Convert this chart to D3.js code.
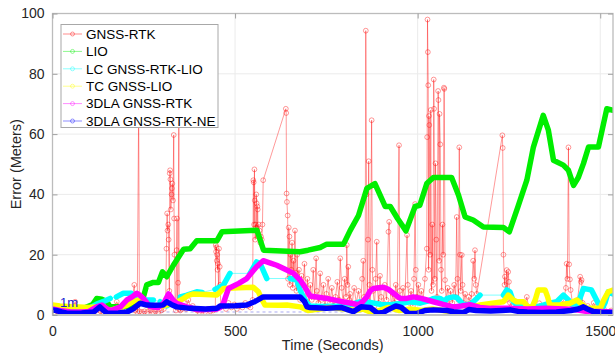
<!DOCTYPE html>
<html>
<head>
<meta charset="utf-8">
<script src="https://cdn.jsdelivr.net/npm/d3@7"></script>
<style>
  html, body { margin: 0; padding: 0; background: #fff; }
  svg { display: block; font-family: "Liberation Sans", Arial, sans-serif; }
</style>
</head>
<body>
<svg id="chart" width="615" height="354"></svg>
<script>
// Positioning error over time for six localisation methods.
const seriesNames = ["GNSS-RTK", "LIO", "LC GNSS-RTK-LIO", "TC GNSS-LIO", "3DLA GNSS-RTK", "3DLA GNSS-RTK-NE"];
const xTicks = [0, 500, 1000, 1500];
const yTicks = [0, 20, 40, 60, 80, 100];
const xDomain = [0, 1535];
const yDomain = [0, 100];
const refLevel = 1;        // 1 m reference line
const refLabel = "1m";

// [time (s), error (m)]
const gnssRtk = [
  [0,1.5],[6,0.8],[12,1.2],[18,0.5],[25,1],[32,0.7],[40,1.5],[47,0.6],[55,1],[62,4.4],[68,0.8],[75,2],[80,1],[88,0.7],[95,1.2],[102,0.5],[110,1],[118,1.8],[125,0.8],[132,1.2],[140,0.6],[148,1],[155,0.5],[162,1.5],[170,2.5],[176,4.4],[185,2],[192,3],[200,2.5],[208,3],[215,2.2],[224,10],[226,1.5],[232,1],[236,70],[238,1.2],[245,1],[252,1.2],[260,1],[268,1.5],[275,1],[282,1.3],[290,1],[298,1.5],[305,2],[310,4],
  [312,22],[314,33.7],[315,28],[317,30],[318,25],[320,8],[321,47],[322,48],[323,45],[324,35],[326,40],[327,42],[328,43.6],[330,38],[332,59.7],[333,32],[334,20],[336,4],[338,1.5],[340,21.5],[341,32],[342,3],[344,10.7],[346,66],[347,2],[350,1.5],
  [355,2],[360,4],[366,2],[372,5],[378,2.5],[384,3],[390,2],[396,1.5],[402,1],[410,1.5],[418,1],[425,2],[432,1.2],[440,1.5],
  [446,2],[447,23.2],[448,21],[449,22.5],[450,18],[451,20],[452,15],[453,17],[455,9],[456,22],[458,16],[459,10],[461,3],
  [468,3],[475,2],[482,4],[490,2.5],[498,3.5],[505,2],[512,3],[520,2.5],[528,4],[535,3],[542,2.5],[548,5],
  [550,44.7],[551,44],[552,30],[553,48.3],[554,38],[555,25],[556,30],[557,29],[558,40],[559,37],[560,28],[561,36],[562,35],[563,26],[565,30],[567,28],[569,24],[571,26],[573,25],[575,30],[577,44.7],
  [639,68.4],[640,67],[641,40.3],[642,37.5],[644,33],[645,12],[647,29],[649,26],[650,10],[652,20],[654,15],[656,24],[658,9],[660,18],[662,12],[664,28],[666,14],[668,8],[670,20],[672,10],[675,15],[678,5],[682,13],[686,9],
  [690,17],[694,4],[698,12],[702,3],[706,10],[710,5],[714,15],[718,6],[722,18.8],[724,8],[728,4],[733,13.8],[737,5],[742,10],[746,3],[750,7],[755,12],[760,4],[765,9],[770,3],[775,6],[780,11],[785,5],[788,18.8],[792,9],[796,4],[800,12],[804,6],[806,23.2],[808,10],[810,16],[813,5],[815,7],[820,3],[826,9],[832,4],[838,8],[844,3],[848,12],[851,18],[853,6],[856,3],[858,94.3],[860,40],[862,5],[864,25],[866,51],[868,10],[870,3],[874,64.6],[876,15],[878,8],[882,3],[885,12],[888,24.3],[890,9],[893,4],[897,13],[900,6],[905,3],[910,10],[915,5],[920,27.6],[922,30.9],[925,8],[928,3],[932,7],[936,4],[940,10],[944,5],[949,56.3],[951,8],[955,3],[960,9],[965,5],[971,26.5],[973,10],[977,4],[982,8],[987,3],[990,12],[993,36.8],[995,15],[998,6],[1002,10],[1006,4],[1010,8],[1015,5],[1020,12],[1025,22],[1026,59],[1027,98],[1028,87.2],[1029,76.2],[1030,15],[1031,66],[1032,63],[1034,20],[1036,68],[1038,8],[1040,30],[1042,10],[1044,78.1],[1045,68.4],[1047,12],[1049,50.3],[1051,25],[1053,6],[1056,74.3],[1057,71.3],[1059,18],[1060,66.7],[1062,56.6],[1064,15],[1066,8],[1068,30],[1070,20],[1072,75.4],[1073,75],[1075,11.6],[1078,5],[1082,9],[1086,3],[1090,8],[1095,4],[1100,10],[1104,6],[1107,32.5],[1109,12],[1112,5],[1114,55.6],[1116,20],[1118,8],[1121,19.9],[1123,10],[1126,4],[1130,7],[1135,3],[1140,6],[1145,4],[1148,7],[1152,18],[1155,12],[1157,21.5],[1159,10],[1162,7],
  [1232,59.6],[1233,55.4],[1235,20],[1238,10],[1239,12.7],[1242,5],[1244,14.9],[1246,8],[1248,14.3],[1250,11],[1253,4],[1258,3],[1264,2],[1270,1.5],[1280,2.5],[1290,1],[1299,6],[1305,2],[1312,1.5],[1320,1],[1333,3.9],[1340,1],[1350,2],[1360,1.5],[1370,1],[1380,3],[1390,2],[1400,5],[1406,9],[1408,17],[1410,12],[1413,55.6],[1415,16.8],[1417,11.8],[1419,8.3],[1424,4],[1430,2],[1438,5],[1445,12.7],[1447,11],[1449,11.6],[1452,4],[1458,2],[1466,3],[1474,1.5],[1482,4],[1490,2],[1500,1.5],[1510,2],[1520,1],[1530,1.5]
];

const lio = [
  [0,2],[30,1.8],[60,2],[90,2.5],[110,3.5],[121,5.5],[135,5.2],[149,4.4],[158,2.7],[190,2.8],[221,3],[240,4.5],[249,6],[258,10],[276,10.8],[290,10.8],[301,14.3],[313,12.7],[331,16.5],[359,21.8],[377,22],[395,24.6],[450,24.6],[464,27.6],[560,28.1],[578,21.5],[678,21],[700,21.5],[733,22.4],[751,23.5],[797,23.5],[815,28],[838,33],[861,42],[883,43.6],[900,39],[911,36],[925,36],[945,32],[968,27.9],[993,36],[1006,36.4],[1025,43.6],[1043,45.6],[1093,45.6],[1112,39.7],[1130,32.5],[1152,31.5],[1180,29.2],[1235,29],[1251,27.6],[1275,36],[1299,44.7],[1317,55.7],[1344,66.2],[1358,61.3],[1372,51.3],[1399,49.7],[1413,48],[1422,44.7],[1427,43],[1440,45.6],[1454,50.2],[1468,55.7],[1495,55.7],[1518,68.4],[1535,67.9]
];

// null marks a stretch without fused output (only the thin connector is drawn there)
const lcGnssRtkLio = [
  [0,2.2],[40,1.8],[80,2],[105,2.5],[121,3.6],[140,4.5],[158,5.5], null,
  [175,6],[194,7.2],[216,7.2],[225,6], null,
  [240,5],[276,5], null,
  [295,4.4],[313,3],[331,4.4], null,
  [350,6],[368,6.6],[395,7.7],[410,7.5], null,
  [445,8.5],[468,9.9],[486,13.8], null,
  [541,13.8],[559,17.6],[569,17],[587,12.1], null,
  [651,12.1],[669,11.6],[678,8.3],[687,6],[697,4],[705,3],[740,2.8],[780,3],[820,3.5],[843,4.4],[870,4.2],[900,3.5],[925,3.4],[952,3.8],[979,4.4],[1006,4],[1025,4.5],[1043,5.5],[1061,5.5],[1075,4.5],[1080,5.5],[1098,6],[1107,5.8],[1125,3.5],[1144,3.5],[1162,5.5],[1171,6.6], null,
  [1235,6.6],[1244,8.3],[1253,7.7],[1262,4.4],[1275,3],[1300,2.5],[1330,2.8],[1362,3.9],[1381,4.4],[1399,6.6],[1413,5],[1426,2.7],[1440,4],[1454,8.8],[1468,8.5],[1476,8.3],[1490,5],[1504,1.7],[1513,4],[1522,7.7],[1535,7]
];

const tcGnssLio = [
  [0,3.3],[20,3],[58,2.7],[100,2.5],[121,2.7],[140,2],[158,1.5],[185,2.5],[204,3.3],[222,4.5],[240,5],[255,3.5],[267,2.7],[300,3],[331,3.9],[345,4.5],[359,5.5],[372,6.5],[386,7],[420,6.8],[450,6.6],[458,7.5],[468,8.8],[510,9],[550,9.2],[564,7.7],[574,5],[582,3.3],[620,3.2],[642,3.3],[678,2.7],[700,1.5],[730,2],[760,2.5],[800,2],[830,1.5],[850,2],[870,1],[890,1.3],[920,2.5],[950,1.5],[980,2],[1010,1.5],[1040,2],[1070,1.5],[1100,1],[1120,0.5],[1140,2],[1160,3],[1171,3.3],[1200,3.8],[1235,4.4],[1248,6.6],[1262,5],[1271,4.4],[1290,4.4],[1300,3],[1312,2.2],[1322,5],[1330,8.3],[1349,8.3],[1356,6],[1362,3.3],[1390,3.3],[1417,3.9],[1436,5],[1450,3.5],[1463,2.2],[1500,2.2],[1510,5],[1522,7.7],[1535,8.3]
];

const dla = [
  [0,2],[20,1.5],[50,1],[80,1],[100,1.2],[121,2.7],[135,3.3],[150,2],[160,1.5],[186,2.7],[204,5],[218,6],[231,7.2],[240,6.5],[249,5.5],[267,2.7],[290,2.5],[305,4],[318,7],[330,5],[340,3.9],[367,2.7],[390,2],[404,1.7],[450,2],[460,2.5],[468,3.9],[482,8.8],[510,10.5],[532,12.1],[545,14],[559,16],[577,18],[595,17.3],[614,16.5],[640,15],[660,13.8],[678,11.6],[690,9.5],[701,7.2],[705,6.3],[751,5.5],[790,4.5],[815,4],[838,3.4],[850,4.5],[861,6],[870,8],[879,8.8],[906,9.2],[920,8.5],[934,7.2],[952,5.5],[970,5.5],[988,6],[1010,5.5],[1043,4.4],[1070,3.5],[1098,2.7],[1120,3],[1143,3.4],[1170,2.5],[1200,2.2],[1250,2.2],[1300,2],[1350,2.2],[1400,2],[1430,1.8],[1460,1.2],[1500,1.2],[1535,1]
];

const dlaNe = [
  [0,1.7],[10,1.5],[25,1],[40,0.6],[80,0.7],[113,1],[125,2.2],[130,2.7],[140,1.5],[149,0.6],[180,0.7],[204,1],[220,2],[240,3.9],[258,3.3],[280,3.2],[303,3.3],[313,4.4],[325,3.5],[340,2.7],[377,2.2],[420,2],[450,2.2],[459,3],[500,3.1],[532,3.3],[555,4.5],[577,6],[640,6],[678,6],[690,4.5],[697,2.7],[705,2.5],[750,2.2],[790,2.5],[824,1.1],[845,2.7],[870,2.5],[890,0.6],[905,0.8],[918,1.7],[940,3],[955,2.5],[975,0.5],[1000,0.6],[1020,1.5],[1043,1.7],[1080,1.5],[1098,1.1],[1125,0.8],[1140,1.8],[1160,1.5],[1200,1.3],[1230,1.5],[1253,1.7],[1275,1.2],[1300,1],[1340,0.8],[1380,1],[1420,1.5],[1440,2],[1454,2.7],[1465,2],[1480,1.2],[1500,0.9],[1535,0.8]
];

const colors = ["#ff0000", "#00ee00", "#00ffff", "#ffff00", "#ff00ff", "#0000ff"];

const svg = d3.select("#chart");
const plot = { left: 52.5, right: 613, top: 13.5, bottom: 315 };

const x = d3.scaleLinear().domain(xDomain).range([plot.left, plot.right]);
const y = d3.scaleLinear().domain(yDomain).range([plot.bottom, plot.top]);

svg.append("defs").append("clipPath").attr("id", "plot-clip")
  .append("rect")
  .attr("x", plot.left).attr("y", plot.top)
  .attr("width", plot.right - plot.left).attr("height", plot.bottom - plot.top);

// grid
const grid = svg.append("g");
grid.selectAll(".gx").data(xTicks).join("line")
  .attr("x1", d => x(d)).attr("x2", d => x(d))
  .attr("y1", plot.top).attr("y2", plot.bottom)
  .attr("stroke", "#ebebeb").attr("stroke-width", 1);
grid.selectAll(".gy").data(yTicks).join("line")
  .attr("x1", plot.left).attr("x2", plot.right)
  .attr("y1", d => y(d)).attr("y2", d => y(d))
  .attr("stroke", "#ebebeb").attr("stroke-width", 1);

const data = svg.append("g").attr("clip-path", "url(#plot-clip)");

// 1 m reference line
data.append("line")
  .attr("x1", plot.left).attr("x2", plot.right)
  .attr("y1", y(refLevel)).attr("y2", y(refLevel))
  .attr("stroke", "#a9a9f0").attr("stroke-width", 1)
  .attr("stroke-dasharray", "3,3");

const line = d3.line()
  .defined(d => d != null)
  .x(d => x(d[0])).y(d => y(d[1]));

// GNSS-RTK: thin line with open circle markers
data.append("path")
  .attr("d", line(gnssRtk))
  .attr("fill", "none").attr("stroke", colors[0])
  .attr("stroke-opacity", 0.5).attr("stroke-width", 0.8);
data.append("g").selectAll("circle").data(gnssRtk).join("circle")
  .attr("cx", d => x(d[0])).attr("cy", d => y(d[1])).attr("r", 2.4)
  .attr("fill", "none").attr("stroke", colors[0])
  .attr("stroke-opacity", 0.5).attr("stroke-width", 0.8);

// estimator outputs: thin connector plus thick trace
const thick = [lio, lcGnssRtkLio, tcGnssLio, dla, dlaNe];
thick.forEach((s, i) => {
  const c = colors[i + 1];
  data.append("path")
    .attr("d", line(s.filter(d => d != null)))
    .attr("fill", "none").attr("stroke", c)
    .attr("stroke-opacity", 0.5).attr("stroke-width", 1);
  data.append("path")
    .attr("d", line(s))
    .attr("fill", "none").attr("stroke", c)
    .attr("stroke-width", 5.5)
    .attr("stroke-linejoin", "round").attr("stroke-linecap", "round");
});

// axes frame
const frame = svg.append("g");
frame.append("rect")
  .attr("x", plot.left).attr("y", plot.top)
  .attr("width", plot.right - plot.left).attr("height", plot.bottom - plot.top)
  .attr("fill", "none").attr("stroke", "#bcbcbc").attr("stroke-width", 1.3);
frame.append("line")
  .attr("x1", plot.left).attr("x2", plot.right)
  .attr("y1", plot.bottom).attr("y2", plot.bottom)
  .attr("stroke", "#c4c4c4").attr("stroke-width", 2);

// axes with inward ticks
const xAxis = d3.axisBottom(x).tickValues(xTicks).tickSize(-5).tickPadding(11).tickFormat(d3.format("d"));
const yAxis = d3.axisLeft(y).tickValues(yTicks).tickSize(-5).tickPadding(8).tickFormat(d3.format("d"));
const gx = svg.append("g").attr("transform", `translate(0,${plot.bottom})`).call(xAxis);
const gy = svg.append("g").attr("transform", `translate(${plot.left},0)`).call(yAxis);
[gx, gy].forEach(g => {
  g.select(".domain").remove();
  g.selectAll(".tick line").attr("stroke", "#a0a0a0");
  g.selectAll(".tick text").attr("fill", "#262626")
    .style("font-size", "14px").style("font-family", "'Liberation Sans', Arial, sans-serif");
});
// mirrored ticks on top and right
svg.append("g").attr("transform", `translate(0,${plot.top})`)
  .call(d3.axisTop(x).tickValues(xTicks).tickSize(-5).tickFormat(""))
  .call(g => { g.select(".domain").remove(); g.selectAll(".tick line").attr("stroke", "#a0a0a0"); });
svg.append("g").attr("transform", `translate(${plot.right},0)`)
  .call(d3.axisRight(y).tickValues(yTicks).tickSize(-5).tickFormat(""))
  .call(g => { g.select(".domain").remove(); g.selectAll(".tick line").attr("stroke", "#a0a0a0"); });

// axis titles
svg.append("text")
  .attr("x", (plot.left + plot.right) / 2).attr("y", 350)
  .attr("text-anchor", "middle").attr("fill", "#262626")
  .style("font-size", "14.5px")
  .text("Time (Seconds)");
svg.append("text")
  .attr("transform", `translate(20.5,${(plot.top + plot.bottom) / 2}) rotate(-90)`)
  .attr("text-anchor", "middle").attr("fill", "#262626")
  .style("font-size", "14.5px")
  .text("Error (Meters)");

// 1 m label
svg.append("text")
  .attr("x", 60).attr("y", y(refLevel) - 5)
  .attr("fill", "#2020d0").style("font-size", "13px")
  .text(refLabel);

// legend
const lg = svg.append("g");
lg.append("rect")
  .attr("x", 61).attr("y", 24.5).attr("width", 157).attr("height", 103)
  .attr("fill", "#fff").attr("stroke", "#a8a8a8").attr("stroke-width", 1);
const rowY = i => 34 + i * 17.4;
seriesNames.forEach((name, i) => {
  const g = lg.append("g");
  g.append("line")
    .attr("x1", 63).attr("x2", 82).attr("y1", rowY(i)).attr("y2", rowY(i))
    .attr("stroke", colors[i]).attr("stroke-opacity", 0.45).attr("stroke-width", 1);
  g.append("circle")
    .attr("cx", 72.5).attr("cy", rowY(i)).attr("r", 2)
    .attr("fill", "none").attr("stroke", colors[i]).attr("stroke-opacity", 0.5).attr("stroke-width", 0.8);
  g.append("text")
    .attr("x", 86).attr("y", rowY(i) + 4.8)
    .attr("fill", "#000").style("font-size", "13.5px")
    .text(name);
});
</script>
</body>
</html>
